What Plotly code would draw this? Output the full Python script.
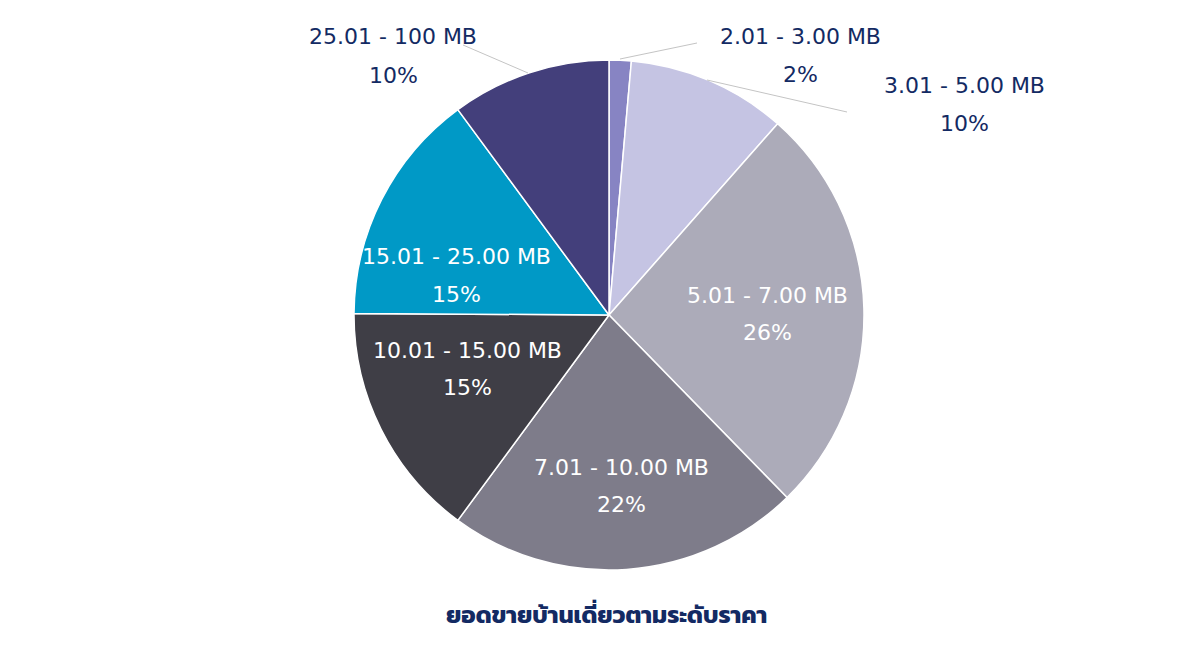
import plotly.graph_objects as go

# price bands (clockwise from 12 o'clock)
bands = ["2.01 - 3.00 MB", "3.01 - 5.00 MB", "5.01 - 7.00 MB", "7.01 - 10.00 MB",
         "10.01 - 15.00 MB", "15.01 - 25.00 MB", "25.01 - 100 MB"]
shares = [1.4, 10.1, 26.2, 22.4, 15.0, 14.8, 10.1]
share_labels = ["2%", "10%", "26%", "22%", "15%", "15%", "10%"]
colors = ["#8784c3", "#c5c4e3", "#acabb9", "#7e7c8a", "#3f3e46", "#0099c6", "#433f7b"]
title_text = "ยอดขายบ้านเดี่ยวตามระดับราคา"

# page has an 8px body margin, so the figure is drawn 8px in from the window
OFF = 8
W, H = 1200 - 2 * OFF, 657 - 2 * OFF
LABEL_FONT = "'DejaVu Sans', sans-serif"
TITLE_FONT = "Kanit, 'Noto Sans Thai', 'Noto Sans', sans-serif"
NAVY = "#132a63"


def px(x, y):
    # window pixel -> paper coords
    return (x - OFF) / W, 1 - (y - OFF) / H


x0p, y1p = px(354, 60)
x1p, y0p = px(864, 570)

fig = go.Figure(go.Pie(
    labels=bands,
    values=shares,
    sort=False,
    direction="clockwise",
    rotation=0,
    marker=dict(colors=colors, line=dict(color="white", width=1.5)),
    textinfo="none",
    hoverinfo="label+percent",
    showlegend=False,
    domain=dict(x=[x0p, x1p], y=[y0p, y1p]),
))

# label spots in window pixels: (x, y of band line, y of pct line, colour)
spots = [
    (800, 37, 74, NAVY),
    (965, 86, 123, NAVY),
    (767, 295, 332, "white"),
    (621, 467, 504, "white"),
    (468, 350, 387, "white"),
    (456, 256, 294, "white"),
    (393, 37, 75, NAVY),
]
for band, pct, (x, y1, y2, c) in zip(bands, share_labels, spots):
    for txt, yy in ((band, y1), (pct, y2)):
        ax, ay = px(x, yy)
        fig.add_annotation(x=ax, y=ay, xref="paper", yref="paper", text=txt,
                           xanchor="center", yanchor="middle", showarrow=False,
                           font=dict(family=LABEL_FONT, size=22, color=c))

# leader lines for the outside labels
leaders = [((620, 59), (697, 43)), ((707, 80), (847, 112)), ((528, 73), (463, 45))]
for (xa, ya), (xb, yb) in leaders:
    a0, b0 = px(xa, ya)
    a1, b1 = px(xb, yb)
    fig.add_shape(type="line", xref="paper", yref="paper", x0=a0, y0=b0, x1=a1, y1=b1,
                  line=dict(color="#c4c4c4", width=1))

tx, ty = px(606, 614)
fig.add_annotation(x=tx, y=ty, xref="paper", yref="paper", text="<b>" + title_text + "</b>",
                   xanchor="center", yanchor="middle", showarrow=False,
                   font=dict(family=TITLE_FONT, size=24, color=NAVY))

fig.update_layout(width=W, height=H, margin=dict(l=0, r=0, t=0, b=0),
                  paper_bgcolor="white", plot_bgcolor="white")

fig.write_html("out.html")
